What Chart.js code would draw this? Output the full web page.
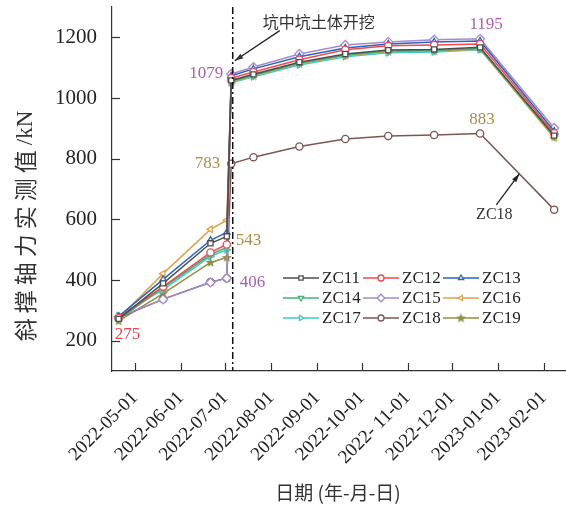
<!DOCTYPE html>
<html>
<head>
<meta charset="utf-8">
<script src="https://cdn.jsdelivr.net/npm/chart.js@4.4.0/dist/chart.umd.min.js"></script>
<style>
  html, body { margin: 0; padding: 0; background: #fff; }
  #c { display: block; }
</style>
</head>
<body>
<canvas id="c" width="566" height="507"></canvas>
<script>
// measurement dates
var dates = ['2022-04-20', '2022-05-20', '2022-06-21', '2022-07-02', '2022-07-05', '2022-07-20',
             '2022-08-20', '2022-09-20', '2022-10-19', '2022-11-19', '2022-12-20', '2023-02-08']
var excavDate = '2022-07-06'

var zc11 = [272, 389, 521, 544, 1058, 1078, 1118, 1145, 1158, 1160, 1167, 876]
var zc12 = [275, 378, 491, 517, 1066, 1086, 1126, 1159, 1172, 1175, 1178, 884]
var zc13 = [280, 402, 531, 557, 1073, 1096, 1136, 1165, 1178, 1185, 1188, 891]
var zc14 = [270, 375, 484, 507, 1055, 1075, 1115, 1142, 1155, 1157, 1163, 874]
var zc15 = [278, 336, 392, 406, 1079, 1102, 1145, 1175, 1185, 1192, 1195, 901]
var zc16 = [273, 421, 567, 597, 1053, 1073, 1113, 1140, 1153, 1155, 1161, 868]
var zc17 = [282, 368, 478, 500, 1050, 1070, 1109, 1136, 1149, 1152, 1159, 880]
var zc18 = [275, 337, 393, 406, 783, 805, 840, 865, 875, 878, 883, 632]
var zc19 = [265, 355, 458, 474, 1054, 1074, 1114, 1141, 1154, 1156, 1162, 872]

var monthStarts = ['2022-05-01', '2022-06-01', '2022-07-01', '2022-08-01', '2022-09-01', '2022-10-01',
                   '2022-11-01', '2022-12-01', '2023-01-01', '2023-02-01']
var xTickLabels = ['2022-05-01', '2022-06-01', '2022-07-01', '2022-08-01', '2022-09-01', '2022-10-01',
                   '2022- 11-01', '2022-12-01', '2023-01-01', '2023-02-01']
var yTicks = [200, 400, 600, 800, 1000, 1200]

var t0 = Date.parse('2022-05-01')
function day(d) { return (Date.parse(d) - t0) / 86400000 }
var xs = dates.map(day)

// filled star marker for ZC19
function starImg(color) {
    var cv = document.createElement('canvas')
    cv.width = 11; cv.height = 11
    var g = cv.getContext('2d')
    g.beginPath()
    for (var i = 0; i < 10; i++) {
        var r = i % 2 ? 2.3 : 5.3
        var a = -Math.PI / 2 + i * Math.PI / 5
        g.lineTo(5.5 + r * Math.cos(a), 5.8 + r * Math.sin(a))
    }
    g.closePath()
    g.fillStyle = color
    g.fill()
    return cv
}

var series = [
    { label: 'ZC11', data: zc11, color: '#4d4d4d', style: 'rect', rot: 0 },
    { label: 'ZC12', data: zc12, color: '#f0494f', style: 'circle', rot: 0 },
    { label: 'ZC13', data: zc13, color: '#2a63b8', style: 'triangle', rot: 0 },
    { label: 'ZC14', data: zc14, color: '#45b07a', style: 'triangle', rot: 180 },
    { label: 'ZC15', data: zc15, color: '#a48ad0', style: 'rectRot', rot: 0 },
    { label: 'ZC16', data: zc16, color: '#d9a44a', style: 'triangle', rot: -90 },
    { label: 'ZC17', data: zc17, color: '#3fc9c4', style: 'triangle', rot: 90 },
    { label: 'ZC18', data: zc18, color: '#7d5555', style: 'circle', rot: 0 },
    { label: 'ZC19', data: zc19, color: '#8f8f45', style: starImg('#8f8f45'), rot: 0 }
]

var datasets = series.map(s => ({
    label: s.label,
    data: s.data.map((v, i) => ({ x: xs[i], y: v })),
    borderColor: s.color,
    backgroundColor: s.color,
    borderWidth: 1.5,
    pointStyle: s.style,
    pointRotation: s.rot,
    pointRadius: s.style === 'rectRot' ? 4.5 : 3.6,
    pointBorderWidth: 1.3,
    pointBackgroundColor: '#fff',
    pointBorderColor: s.color,
    tension: 0,
    clip: false
}))

// value labels: [series data, index, text, color, dx, dy, align]
var purple = '#b05cb0', tan = '#b08c48', red = '#e8434a'
var notes = [
    [zc12, 0, '275', red, -4, 17, 'left'],
    [zc11, 3, '543', tan, 9, 4, 'left'],
    [zc15, 3, '406', purple, 13, 4, 'left'],
    [zc18, 4, '783', tan, -11, 0, 'right'],
    [zc15, 4, '1079', purple, -8, -1, 'right'],
    [zc15, 10, '1195', purple, 6, -14, 'center'],
    [zc18, 10, '883', tan, 2, -14, 'center']
]

function arrow(ctx, x1, y1, x2, y2) {
    ctx.beginPath()
    ctx.moveTo(x1, y1); ctx.lineTo(x2, y2)
    ctx.stroke()
    var a = Math.atan2(y2 - y1, x2 - x1)
    ctx.beginPath()
    ctx.moveTo(x2, y2)
    ctx.lineTo(x2 - 9 * Math.cos(a - 0.3), y2 - 9 * Math.sin(a - 0.3))
    ctx.lineTo(x2 - 9 * Math.cos(a + 0.3), y2 - 9 * Math.sin(a + 0.3))
    ctx.closePath()
    ctx.fill()
}

var extras = {
    id: 'extras',
    afterDraw(chart) {
        var ctx = chart.ctx
        var xS = chart.scales.x, yS = chart.scales.y
        var area = chart.chartArea
        ctx.save()
        // inward tick marks
        ctx.strokeStyle = '#333'
        ctx.lineWidth = 1.2
        yTicks.forEach(v => {
            var y = Math.round(yS.getPixelForValue(v)) + 0.5
            ctx.beginPath(); ctx.moveTo(area.left, y); ctx.lineTo(area.left + 8, y); ctx.stroke()
        })
        monthStarts.forEach(d => {
            var x = Math.round(xS.getPixelForValue(day(d))) + 0.5
            ctx.beginPath(); ctx.moveTo(x, area.bottom); ctx.lineTo(x, area.bottom - 8); ctx.stroke()
        })
        // excavation line
        var xe = xS.getPixelForValue(day(excavDate))
        ctx.strokeStyle = '#111'
        ctx.lineWidth = 1.5
        ctx.setLineDash([7, 3, 2, 3])
        ctx.beginPath(); ctx.moveTo(xe, area.top); ctx.lineTo(xe, area.bottom); ctx.stroke()
        ctx.setLineDash([])
        ctx.fillStyle = '#333'
        ctx.strokeStyle = '#222'
        ctx.lineWidth = 1.3
        arrow(ctx, xe + 47, yS.getPixelForValue(1222), xe + 2, yS.getPixelForValue(1123))
        ctx.font = '16px "Noto Sans CJK SC"'
        ctx.textAlign = 'left'
        ctx.textBaseline = 'middle'
        ctx.fillText('坑中坑土体开挖', xe + 30, yS.getPixelForValue(1252))
        // value labels
        ctx.font = '17px "Liberation Serif"'
        notes.forEach(n => {
            ctx.fillStyle = n[3]
            ctx.textAlign = n[6]
            ctx.fillText(n[2], xS.getPixelForValue(xs[n[1]]) + n[4], yS.getPixelForValue(n[0][n[1]]) + n[5])
        })
        // ZC18 pointer
        var ax = xS.getPixelForValue(xs[10] + (xs[11] - xs[10]) * 0.53)
        var ay = yS.getPixelForValue(zc18[10] + (zc18[11] - zc18[10]) * 0.53)
        ctx.fillStyle = '#222'
        arrow(ctx, ax - 23, ay + 31, ax, ay)
        ctx.font = '16px "Liberation Serif"'
        ctx.textAlign = 'center'
        ctx.fillStyle = '#333'
        ctx.fillText('ZC18', ax - 25, ay + 41)
        // legend, 3 x 3
        ctx.font = '17px "Liberation Serif"'
        ctx.textAlign = 'left'
        chart.data.datasets.forEach((ds, i) => {
            var lx = 283 + (i % 3) * 80
            var ly = 278 + Math.floor(i / 3) * 20
            ctx.strokeStyle = ds.borderColor
            ctx.lineWidth = 1.5
            ctx.beginPath(); ctx.moveTo(lx, ly); ctx.lineTo(lx + 36, ly); ctx.stroke()
            ctx.fillStyle = '#fff'
            ctx.lineWidth = 1.3
            Chart.helpers.drawPoint(ctx, { pointStyle: ds.pointStyle, rotation: ds.pointRotation, radius: ds.pointStyle === 'rectRot' ? 3.8 : 3, borderWidth: 1.3 }, lx + 18, ly)
            ctx.fillStyle = '#222'
            ctx.fillText(ds.label, lx + 39, ly + 1)
        })
        // axis titles
        ctx.fillStyle = '#333'
        ctx.font = '19px "Noto Sans CJK SC"'
        ctx.textAlign = 'center'
        ctx.fillText('日期 (年-月-日)', 338, 493)
        ctx.translate(25, 226)
        ctx.rotate(-Math.PI / 2)
        ctx.font = '23px "Noto Sans CJK SC"'
        ctx.letterSpacing = '5px'
        var cjk = '斜撑轴力实测值'
        var w1 = ctx.measureText(cjk).width
        ctx.letterSpacing = '0px'
        ctx.font = '23px "Liberation Serif"'
        var unit = '/kN'
        var w2 = ctx.measureText(unit).width
        var start = -(w1 + w2) / 2
        ctx.textAlign = 'left'
        ctx.fillText(unit, start + w1, 1)
        ctx.font = '23px "Noto Sans CJK SC"'
        ctx.letterSpacing = '5px'
        ctx.fillText(cjk, start, 0)
        ctx.restore()
    }
}

var chart = new Chart(document.getElementById('c').getContext('2d'), {
    type: 'line',
    data: { datasets: datasets },
    options: {
        responsive: false,
        animation: false,
        layout: { autoPadding: false, padding: { top: 7, right: 0, left: 0, bottom: 0 } },
        plugins: { legend: { display: false }, tooltip: { enabled: false } },
        scales: {
            x: {
                type: 'linear',
                min: -15.5,
                max: 291,
                grid: { display: false, drawTicks: false },
                border: { display: true, color: '#333', width: 1.2 },
                afterBuildTicks: s => { s.ticks = monthStarts.map(d => ({ value: day(d) })) },
                afterFit: s => { s.height = 136; s.paddingLeft = 0; s.paddingRight = 0 },
                ticks: {
                    autoSkip: false,
                    maxRotation: 45,
                    minRotation: 45,
                    padding: 16,
                    color: '#222',
                    font: { family: 'Liberation Serif', size: 19 },
                    callback: (v, i) => xTickLabels[i]
                }
            },
            y: {
                min: 100,
                max: 1300,
                grid: { display: false, drawTicks: false },
                border: { display: true, color: '#333', width: 1.2 },
                afterBuildTicks: s => { s.ticks = yTicks.map(v => ({ value: v })) },
                afterFit: s => { s.width = 112; s.paddingTop = 0; s.paddingBottom = 0 },
                ticks: {
                    padding: 15,
                    color: '#222',
                    font: { family: 'Liberation Serif', size: 21 },
                    callback: v => String(v)
                }
            }
        }
    },
    plugins: [extras]
})
</script>
</body>
</html>
